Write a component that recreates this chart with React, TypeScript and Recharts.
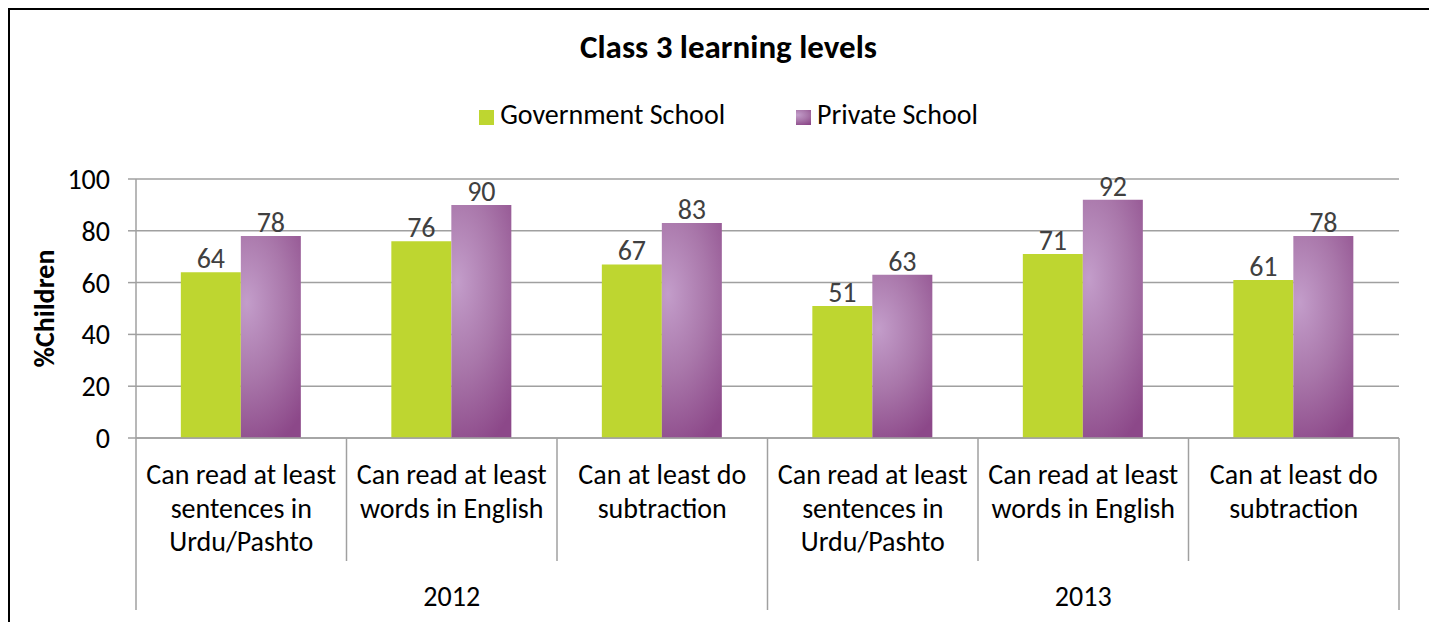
import { BarChart, Bar, XAxis, YAxis, CartesianGrid, LabelList } from "recharts";

const FONT = "Carlito, Calibri, Lato, sans-serif";

const years = ["2012", "2013"];
const categoryLines = [
  ["Can read at least", "sentences in", "Urdu/Pashto"],
  ["Can read at least", "words in English"],
  ["Can at least do", "subtraction"],
];
const government = [64, 76, 67, 51, 71, 61];
const privateSchool = [78, 90, 83, 63, 92, 78];
const yTicks = [0, 20, 40, 60, 80, 100];

const rows = government.map((g, i) => ({
  key: `${years[Math.floor(i / 3)]}-${i % 3}`,
  year: years[Math.floor(i / 3)],
  lines: categoryLines[i % 3],
  government: g,
  private: privateSchool[i],
}));

const GRID = "#a0a0a0";
const GREEN = "#bed630";

function CategoryTick(props: any) {
  const { x, y, payload, index } = props;
  const half = payload.offset;
  const row = rows[index];
  return (
    <g>
      <line x1={x - half} x2={x - half} y1={y} y2={index % 3 === 0 ? y + 172 : y + 123} stroke={GRID} strokeWidth={1.5} />
      {index === rows.length - 1 && (
        <line x1={x + half} x2={x + half} y1={y} y2={y + 172} stroke={GRID} strokeWidth={1.5} />
      )}
      {row.lines.map((l: string, i: number) => (
        <text key={i} x={x} y={y + 46 + i * 33.7} textAnchor="middle" fontSize={28} fill="#000" fontFamily={FONT}>
          {l}
        </text>
      ))}
      {index % 3 === 1 && (
        <text x={x} y={y + 168} textAnchor="middle" fontSize={28} fill="#000" fontFamily={FONT}>
          {row.year}
        </text>
      )}
    </g>
  );
}

const legendItems = [
  { label: "Government School", fill: GREEN },
  { label: "Private School", fill: "url(#purpleGrad)" },
];

export default function App() {
  return (
    <div
      style={{
        position: "relative",
        width: 1427,
        height: 612,
        borderTop: "2px solid #000",
        borderLeft: "2px solid #000",
        background: "#fff",
        overflow: "hidden",
      }}
    >
      <style>{"html, body { overflow: hidden; }"}</style>
      <div
        style={{
          position: "absolute",
          top: 21,
          left: 0,
          width: 1427,
          paddingLeft: 10,
          boxSizing: "border-box",
          textAlign: "center",
          fontFamily: FONT,
          fontWeight: "bold",
          fontSize: 33,
          lineHeight: "33px",
          color: "#000",
        }}
      >
        Class 3 learning levels
      </div>
      <div
        style={{
          position: "absolute",
          top: 91,
          left: 0,
          width: 1427,
          paddingLeft: 10,
          boxSizing: "border-box",
          display: "flex",
          justifyContent: "center",
          gap: 71,
          fontFamily: FONT,
          fontSize: 28,
          lineHeight: "28px",
          zIndex: 2,
        }}
      >
        {legendItems.map((it) => (
          <div key={it.label} style={{ display: "flex", alignItems: "flex-start", gap: 6 }}>
            <svg width={15} height={15} style={{ marginTop: 9 }}>
              <rect width={15} height={15} fill={it.fill} />
            </svg>
            <span style={{ color: "#000" }}>{it.label}</span>
          </div>
        ))}
      </div>
      <BarChart
        width={1427}
        height={612}
        data={rows}
        margin={{ top: 169, right: 38, left: 0, bottom: 0 }}
        barCategoryGap="21.3%"
        barGap={0}
      >
        <defs>
          <radialGradient
            id="purpleGrad"
            cx="0.1"
            cy="0.33"
            r="0.75"
            gradientTransform="translate(0.1 0.33) scale(1.8 1) translate(-0.1 -0.33)"
          >
            <stop offset="0" stopColor="#c39dca" />
            <stop offset="0.5" stopColor="#a977aa" />
            <stop offset="1" stopColor="#8c4889" />
          </radialGradient>
        </defs>
        <CartesianGrid vertical={false} stroke={GRID} strokeWidth={1.5} />
        <XAxis
          dataKey="key"
          height={184}
          interval={0}
          tickSize={0}
          tickMargin={0}
          tickLine={false}
          axisLine={{ stroke: GRID, strokeWidth: 1.5 }}
          tick={<CategoryTick />}
        />
        <YAxis
          width={126}
          domain={[0, 100]}
          ticks={yTicks}
          tickSize={8}
          tickMargin={18}
          tickLine={{ stroke: GRID, strokeWidth: 1.5 }}
          axisLine={{ stroke: GRID, strokeWidth: 1.5 }}
          tick={{ fontSize: 28, fill: "#000", fontFamily: FONT }}
          label={{
            content: ({ viewBox }: any) => (
              <text
                x={34}
                y={viewBox.y + viewBox.height / 2}
                transform={`rotate(-90 34 ${viewBox.y + viewBox.height / 2})`}
                textAnchor="middle"
                dominantBaseline="central"
                fontSize={28}
                fontWeight="bold"
                fontFamily={FONT}
                fill="#000"
              >
                %Children
              </text>
            ),
          }}
        />
        <Bar dataKey="government" name="Government School" fill={GREEN} isAnimationActive={false}>
          <LabelList dataKey="government" position="top" offset={4} fontSize={28} fill="#404040" fontFamily={FONT} />
        </Bar>
        <Bar dataKey="private" name="Private School" fill="url(#purpleGrad)" isAnimationActive={false}>
          <LabelList dataKey="private" position="top" offset={4} fontSize={28} fill="#404040" fontFamily={FONT} />
        </Bar>
      </BarChart>
    </div>
  );
}
